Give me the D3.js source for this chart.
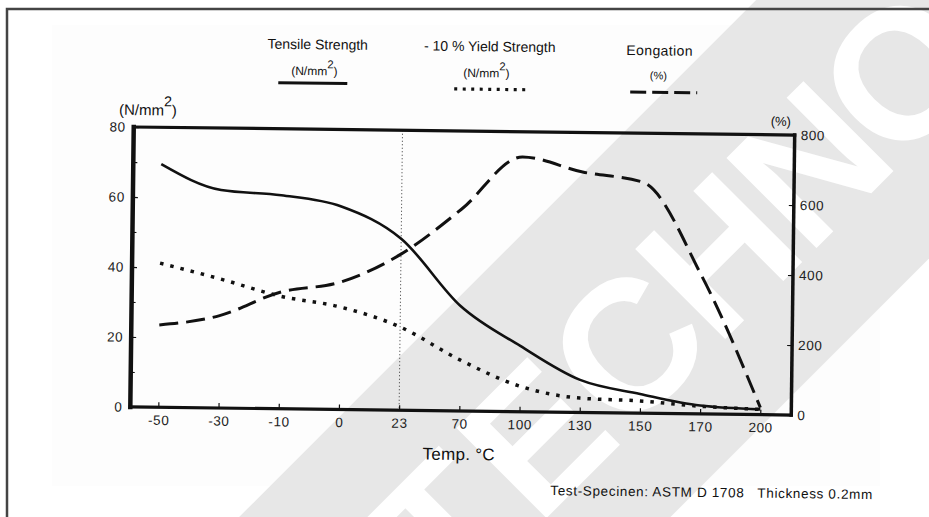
<!DOCTYPE html>
<html>
<head>
<meta charset="utf-8">
<script src="https://cdn.jsdelivr.net/npm/d3@7"></script>
<style>
  body { margin: 0; background: #fff; }
  svg { display: block; }
  text { font-family: "Liberation Sans", Arial, sans-serif; fill: #111; }
</style>
</head>
<body>
<svg id="chart" width="929" height="517"></svg>
<script>
// Temperature categories (evenly spaced on the axis, not to scale)
const temps = ["-50", "-30", "-10", "0", "23", "70", "100", "130", "150", "170", "200"];
// Tensile strength, N/mm²
const tensile = [69.5, 62.3, 61.0, 58.0, 49.0, 30.0, 18.8, 9.3, 5.5, 2.4, 1.5];
// 10 % yield strength, N/mm²
const yieldStrength = [41.2, 36.9, 32.2, 29.3, 23.8, 14.6, 7.3, 4.1, 3.5, 2.2, 1.5];
// Elongation, %
const elongation = [235, 264, 333, 364, 446, 577, 728, 687, 660, 394, 20];
// Axis ticks
const leftTicks = [0, 20, 40, 60, 80];
const leftMinorTicks = [10, 30, 50, 70];
const rightTicks = [0, 200, 400, 600, 800];
const watermarkLetters = ["T", "E", "C", "H", "N", "O"];

const svg = d3.select("#chart");

// faint paper tone behind the drawing
svg.append("rect").attr("x", 52).attr("y", 25).attr("width", 828).attr("height", 461)
  .attr("fill", "#fdfdfd");

// diagonal watermark: grey band with knocked-out letters
const wm = svg.append("g").attr("transform", "translate(656,284) rotate(-45)");
wm.append("rect").attr("x", -600).attr("y", -130).attr("width", 1200).attr("height", 305)
  .attr("fill", "#e7e7e7");
wm.selectAll("text.wm").data(watermarkLetters).join("text")
  .attr("class", "wm")
  .attr("x", (d, i) => (i - 2.5) * 129)
  .attr("y", 24)
  .attr("text-anchor", "middle")
  .attr("dominant-baseline", "central")
  .style("font-family", "'Liberation Sans', Arial, sans-serif")
  .style("font-weight", "bold")
  .style("font-size", "185px")
  .style("fill", "#ffffff")
  .text(d => d);

// outer frame (top and left edges)
svg.append("path").attr("d", "M7,517 L7,9 L929,9")
  .attr("fill", "none").attr("stroke", "#444").attr("stroke-width", 2.5);

// the chart itself sits slightly skewed, like the printed sheet
const g = svg.append("g").attr("transform", "rotate(0.7 462 271)");

const plot = { left: 132, right: 793, top: 131, bottom: 411 };
const x = d3.scalePoint().domain(temps).range([160, 762]);
const y = d3.scaleLinear().domain([0, 80]).range([plot.bottom, plot.top]);
const yR = d3.scaleLinear().domain([0, 800]).range([plot.bottom, plot.top]);

// 23 °C reference line
g.append("line")
  .attr("x1", x("23")).attr("x2", x("23"))
  .attr("y1", plot.top).attr("y2", plot.bottom)
  .attr("stroke", "#333").attr("stroke-width", 1).attr("stroke-dasharray", "1,2.5");

// axes
const styleAxis = sel => {
  sel.select(".domain").remove();
  sel.selectAll("line").attr("stroke", "#111").attr("stroke-width", 1.2);
  sel.selectAll("text")
    .style("font-family", "'Liberation Sans', Arial, sans-serif")
    .style("font-size", "13.5px").style("letter-spacing", "0.6px").style("fill", "#222");
};

g.append("g").attr("transform", `translate(${plot.left},0)`)
  .call(d3.axisLeft(y).tickValues(leftTicks).tickSize(-5).tickPadding(8))
  .call(styleAxis);
g.append("g").attr("transform", `translate(${plot.left},0)`)
  .call(d3.axisLeft(y).tickValues(leftMinorTicks).tickSize(-4).tickFormat(""))
  .call(styleAxis);
g.append("g").attr("transform", `translate(${plot.right},0)`)
  .call(d3.axisRight(yR).tickValues(rightTicks).tickSize(-5).tickPadding(6))
  .call(styleAxis);
g.append("g").attr("transform", `translate(0,${plot.bottom})`)
  .call(d3.axisBottom(x).tickSize(-5).tickPadding(8))
  .call(styleAxis);

// frame
const frame = [
  [plot.left, plot.top, plot.left, plot.bottom, 4.5],
  [plot.left, plot.top, plot.right, plot.top, 3.2],
  [plot.right, plot.top, plot.right, plot.bottom, 3.5],
  [plot.left, plot.bottom, plot.right, plot.bottom, 3.2]
];
g.selectAll("line.frame").data(frame).join("line")
  .attr("class", "frame")
  .attr("x1", d => d[0]).attr("y1", d => d[1]).attr("x2", d => d[2]).attr("y2", d => d[3])
  .attr("stroke", "#111").attr("stroke-width", d => d[4]).attr("stroke-linecap", "square");

// curves
const lineL = d3.line().x((d, i) => x(temps[i])).y(d => y(d)).curve(d3.curveMonotoneX);
const lineR = d3.line().x((d, i) => x(temps[i])).y(d => yR(d)).curve(d3.curveMonotoneX);

g.append("path").datum(tensile).attr("d", lineL)
  .attr("fill", "none").attr("stroke", "#111").attr("stroke-width", 2.6);
g.append("path").datum(yieldStrength).attr("d", lineL)
  .attr("fill", "none").attr("stroke", "#111").attr("stroke-width", 3.5)
  .attr("stroke-dasharray", "3.5,7");
g.append("path").datum(elongation).attr("d", lineR)
  .attr("fill", "none").attr("stroke", "#111").attr("stroke-width", 3)
  .attr("stroke-dasharray", "19,8");

// "(N/mm²)" unit label with raised 2
const unitLabel = (parent, xPos, yPos, size) => {
  const t = parent.append("text").attr("x", xPos).attr("y", yPos).attr("text-anchor", "middle")
    .style("font-size", size + "px");
  t.append("tspan").text("(N/mm");
  t.append("tspan").attr("dy", -size * 0.6).style("font-size", (size * 0.95) + "px").text("2");
  t.append("tspan").attr("dy", size * 0.6).text(")");
  return t;
};

// axis titles
unitLabel(g, 146, 119, 15);
g.append("text").attr("x", 779).attr("y", 122).attr("text-anchor", "middle")
  .style("font-size", "13px").text("(%)");
g.append("text").attr("x", 461).attr("y", 460).attr("text-anchor", "middle")
  .style("font-size", "17px").style("letter-spacing", "0.3px").text("Temp. °C");

// legend
const legend = g.append("g");
legend.append("text").attr("x", 315).attr("y", 51).attr("text-anchor", "middle")
  .style("font-size", "14px").text("Tensile Strength");
unitLabel(legend, 312, 77, 12);
legend.append("line").attr("x1", 276).attr("x2", 345).attr("y1", 85).attr("y2", 85)
  .attr("stroke", "#111").attr("stroke-width", 3);

legend.append("text").attr("x", 487).attr("y", 51).attr("text-anchor", "middle")
  .style("font-size", "14px").text("- 10 % Yield Strength");
unitLabel(legend, 484, 77, 12);
legend.append("line").attr("x1", 452).attr("x2", 526).attr("y1", 89).attr("y2", 89)
  .attr("stroke", "#111").attr("stroke-width", 3.2).attr("stroke-dasharray", "3,5.5");

legend.append("text").attr("x", 657).attr("y", 53).attr("text-anchor", "middle")
  .style("font-size", "14px").style("letter-spacing", "0.4px").text("Eongation");
legend.append("text").attr("x", 656).attr("y", 77).attr("text-anchor", "middle")
  .style("font-size", "11px").text("(%)");
legend.append("line").attr("x1", 628).attr("x2", 695).attr("y1", 90).attr("y2", 90)
  .attr("stroke", "#111").attr("stroke-width", 3).attr("stroke-dasharray", "16,6");

// specimen note
g.append("text").attr("x", 553).attr("y", 494)
  .attr("textLength", 322).attr("lengthAdjust", "spacing")
  .style("font-size", "13.5px").style("white-space", "pre")
  .text("Test-Specinen: ASTM D 1708   Thickness 0.2mm");
</script>
</body>
</html>
